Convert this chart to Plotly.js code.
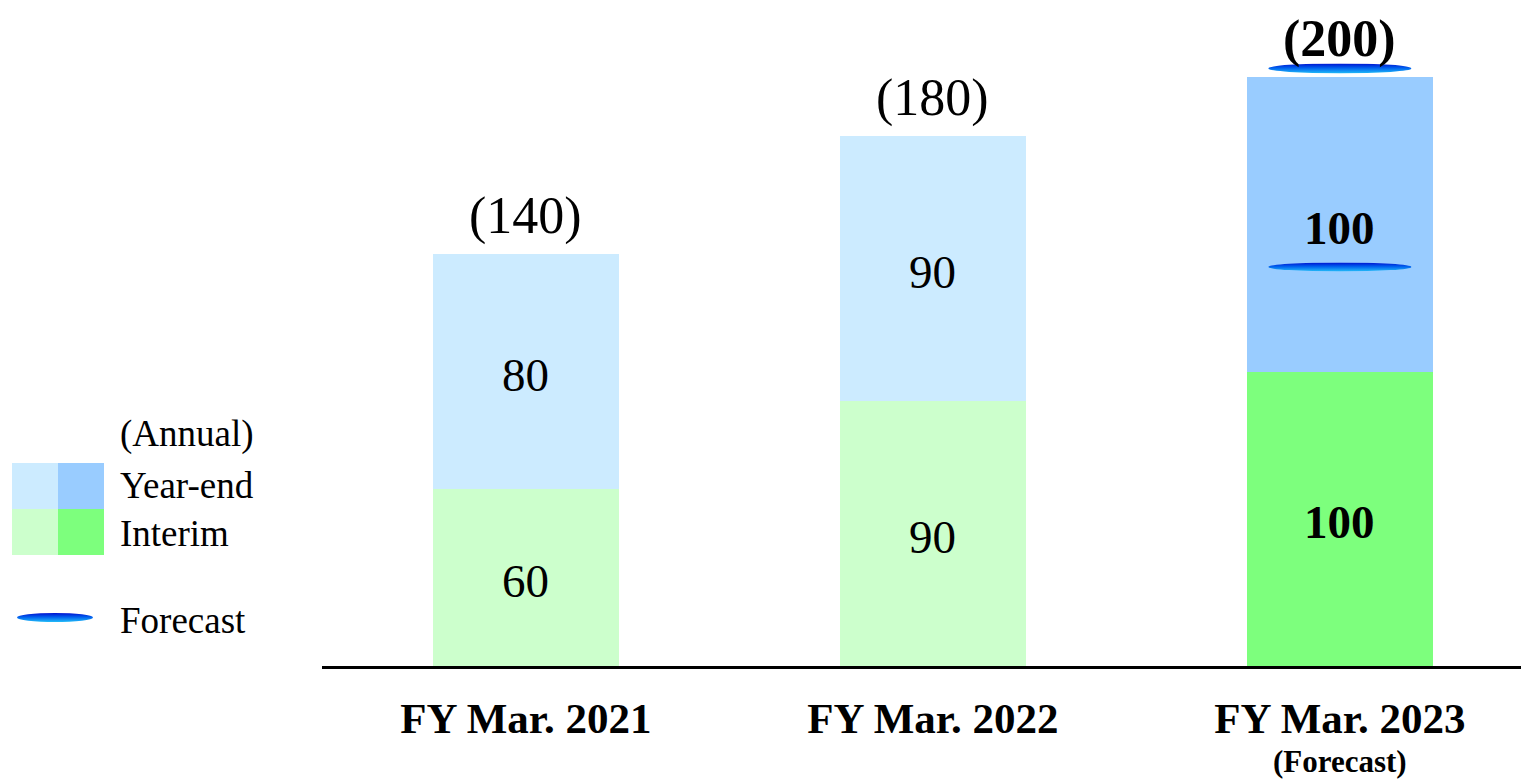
<!DOCTYPE html>
<html>
<head>
<meta charset="utf-8">
<script src="https://cdn.plot.ly/plotly-3.0.1.min.js"></script>
<style>html,body{margin:0;padding:0;background:#fff;}#chart{width:1521px;height:779px;}</style>
</head>
<body>
<div id="chart"></div>
<script>
// ---- data ----
var categories = ['FY Mar. 2021', 'FY Mar. 2022', 'FY Mar. 2023'];
var interim = [60, 90, 100];
var yearEnd = [80, 90, 100];
var totals = [140, 180, 200];
var isForecast = [false, false, true];
var forecastNote = '(Forecast)';
var legendLabels = ['(Annual)', 'Year-end', 'Interim', 'Forecast'];

// ---- styles ----
var FONT = 'Liberation Serif, Times New Roman, serif';
var colInterim = ['#CCFFCC', '#CCFFCC', '#7DFF7D'];
var colYearEnd = ['#CCEBFF', '#CCEBFF', '#99CCFF'];

// pixel helpers (plot area: x 322..1521, y 0..666)
var L = 322, W = 1199, B = 666, H = 666;
var YMAX = 226.3;
var unit = YMAX / H; // data units per px
function pxX(px) { return (px - L) / W; }
function pxY(py) { return (B - py) / H; }

var xs = categories.map(function (c, i) { return i; });
function lbl(v, i) { return isForecast[i] ? '<b>' + v + '</b>' : String(v); }

var barCommon = {
  type: 'bar', x: xs, width: 0.457, hoverinfo: 'skip', textposition: 'none'
};
var tInterim = Object.assign({}, barCommon, {
  y: interim, marker: { color: colInterim, line: { width: 0 } }
});
var tYear = Object.assign({}, barCommon, {
  y: yearEnd, marker: { color: colYearEnd, line: { width: 0 } }
});

var svg = "<svg xmlns='http://www.w3.org/2000/svg' width='200' height='14' viewBox='0 0 200 14'>" +
  "<defs><linearGradient id='g' x1='0' y1='0' x2='0' y2='1'>" +
  "<stop offset='0' stop-color='#0010d0'/><stop offset='0.45' stop-color='#0060ee'/>" +
  "<stop offset='1' stop-color='#22bcf8'/></linearGradient></defs>" +
  "<ellipse cx='100' cy='7' rx='100' ry='7' fill='url(#g)'/></svg>";
var ellSrc = 'data:image/svg+xml;charset=utf-8,' + encodeURIComponent(svg);

var annotations = [];
var images = [];
var shapes = [];
totals.forEach(function (t, i) {
  // segment labels
  annotations.push({
    x: i, y: interim[i] / 2, xref: 'x', yref: 'y', yanchor: 'middle', yshift: -3,
    text: lbl(interim[i], i), showarrow: false,
    font: { family: FONT, size: 47, color: '#000' }
  });
  annotations.push({
    x: i, y: interim[i] + yearEnd[i] / 2, xref: 'x', yref: 'y', yanchor: 'middle', yshift: -3,
    text: lbl(yearEnd[i], i), showarrow: false,
    font: { family: FONT, size: 47, color: '#000' }
  });
  annotations.push({
    x: i, y: t, xref: 'x', yref: 'y', yanchor: 'middle', yshift: 38,
    text: isForecast[i] ? '<b>(' + t + ')</b>' : '(' + t + ')',
    showarrow: false, font: { family: FONT, size: 52, color: '#000' }
  });
  if (isForecast[i]) {
    images.push({
      source: ellSrc, xref: 'x', yref: 'y', x: i, y: t + 9 * unit,
      sizex: 0.352, sizey: 10 * unit, xanchor: 'center', yanchor: 'middle',
      sizing: 'stretch', layer: 'above'
    });
    images.push({
      source: ellSrc, xref: 'x', yref: 'y', x: i, y: interim[i] + yearEnd[i] * 0.356,
      sizex: 0.352, sizey: 9 * unit, xanchor: 'center', yanchor: 'middle',
      sizing: 'stretch', layer: 'above'
    });
    annotations.push({
      x: i, y: pxY(761), xref: 'x', yref: 'paper', yanchor: 'middle',
      text: '<b>' + forecastNote + '</b>', showarrow: false,
      font: { family: FONT, size: 31, color: '#000' }
    });
  }
});

// legend (custom)
function rect(x0, y0, x1, y1, c) {
  shapes.push({ type: 'rect', xref: 'paper', yref: 'paper', x0: pxX(x0), x1: pxX(x1),
    y0: pxY(y1), y1: pxY(y0), fillcolor: c, line: { width: 0 } });
}
rect(12, 463, 58, 509, colYearEnd[0]);
rect(58, 463, 104, 509, colYearEnd[2]);
rect(12, 509, 58, 555, colInterim[0]);
rect(58, 509, 104, 555, colInterim[2]);
var legY = [434, 485, 533, 620];
legendLabels.forEach(function (s, k) {
  annotations.push({ x: pxX(118), y: pxY(legY[k]), xref: 'paper', yref: 'paper',
    xanchor: 'left', yanchor: 'middle', text: s, showarrow: false,
    font: { family: FONT, size: 37, color: '#000' } });
});
images.push({ source: ellSrc, xref: 'paper', yref: 'paper', x: pxX(17), y: pxY(613),
  sizex: 76 / W, sizey: 9 / H, xanchor: 'left', yanchor: 'top', sizing: 'stretch', layer: 'above' });

var layout = {
  width: 1521, height: 779, barmode: 'stack', showlegend: false,
  paper_bgcolor: '#fff', plot_bgcolor: '#fff',
  margin: { l: L, r: 0, t: 0, b: 779 - B, pad: 0 },
  xaxis: {
    range: [-0.501, 2.445], tickvals: xs, ticktext: categories, ticks: '',
    showgrid: false, zeroline: false, showline: true, linecolor: '#000', linewidth: 2.5,
    tickfont: { family: FONT, size: 43, color: '#000', weight: 'bold' },
    ticklabelstandoff: 13, fixedrange: true
  },
  yaxis: { range: [0, YMAX], visible: false, showgrid: false, zeroline: false, fixedrange: true },
  annotations: annotations, shapes: shapes, images: images,
  font: { family: FONT }
};

Plotly.newPlot('chart', [tInterim, tYear], layout, { displayModeBar: false, staticPlot: true });
</script>
</body>
</html>
